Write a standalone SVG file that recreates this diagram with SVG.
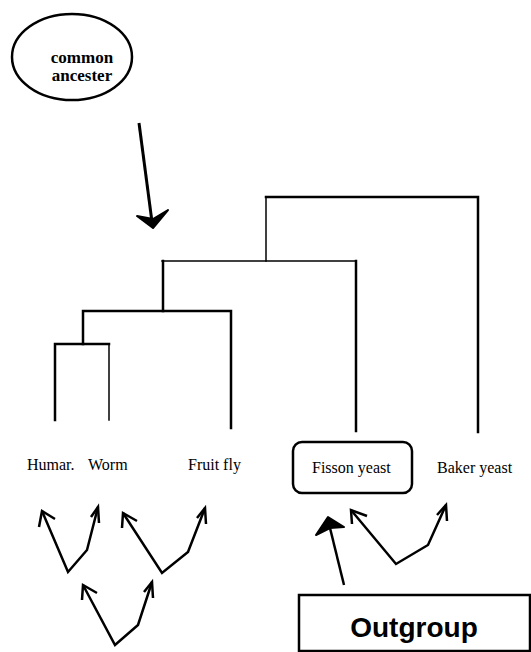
<svg xmlns="http://www.w3.org/2000/svg" width="531" height="652" viewBox="0 0 531 652">
<style>
.tree{fill:none;stroke:#000;stroke-width:2.5;stroke-linecap:square}
.thin{stroke-width:1.5}
.lbl{font-family:"Liberation Serif","Times New Roman",serif;font-size:16px;fill:#000}
.anc{font-family:"Liberation Serif","Times New Roman",serif;font-size:17px;font-weight:bold;fill:#000}
.out{font-family:"Liberation Sans",Arial,sans-serif;font-size:28px;font-weight:bold;fill:#000}
.arr{fill:none;stroke:#000;stroke-width:2.5;stroke-linejoin:miter}
</style>
<rect width="531" height="652" fill="#fff"/>
<g id="common-ancestor">
<ellipse cx="72" cy="57" rx="60" ry="43" fill="#fff" stroke="#000" stroke-width="2.5"/>
<text class="anc" x="82" y="63" text-anchor="middle">common</text>
<text class="anc" x="82" y="81" text-anchor="middle">ancester</text>
</g>
<g id="tree">
<polyline class="tree" points="55,420 55,344 109,344"/>
<polyline class="tree thin" points="109,344 109,420"/>
<polyline class="tree" points="83,344 83,311 231,311 231,428"/>
<polyline class="tree" points="163,311 163,261"/>
<polyline class="tree thin" points="162,261 356,261"/>
<polyline class="tree" points="356,261 356,431"/>
<polyline class="tree thin" points="266,261 266,197"/>
<polyline class="tree" points="266,197 478,197 478,432"/>
</g>
<g id="human"><text class="lbl" x="27" y="470">Humar.</text></g>
<g id="worm"><text class="lbl" x="88" y="470">Worm</text></g>
<g id="fruit-fly"><text class="lbl" x="188" y="470">Fruit fly</text></g>
<g id="fisson-yeast">
<rect x="293" y="442" width="119" height="51" rx="9" fill="#fff" stroke="#000" stroke-width="2.5"/>
<text class="lbl" x="312" y="473">Fisson yeast</text>
</g>
<g id="baker-yeast"><text class="lbl" x="437" y="473">Baker yeast</text></g>
<g id="outgroup">
<rect x="299" y="595" width="231" height="56" fill="#fff" stroke="#000" stroke-width="2.5"/>
<text class="out" x="414" y="637" text-anchor="middle">Outgroup</text>
</g>
<g id="connectors">
<line x1="139" y1="123" x2="152" y2="222" stroke="#000" stroke-width="3"/>
<path d="M153,228 L137,216 L153,219 L168,210 Z" fill="#000" stroke="#000" stroke-width="2" stroke-linejoin="round"/>
<polyline class="arr" points="42,511 68,572 87,550 98,507"/>
<polyline class="arr" points="39,527 42,511 55,519"/>
<polyline class="arr" points="91,517 98,507 99,523"/>
<polyline class="arr" points="123,513 162,573 188,552 205,508"/>
<polyline class="arr" points="122,528 123,513 137,521"/>
<polyline class="arr" points="197,518 205,508 206,524"/>
<polyline class="arr" points="83,585 115,645 138,625 152,582"/>
<polyline class="arr" points="82,600 83,585 97,593"/>
<polyline class="arr" points="144,592 152,582 153,598"/>
<polyline class="arr" points="351,510 396,564 428,545 446,505"/>
<polyline class="arr" points="352,524 351,510 367,516"/>
<polyline class="arr" points="437,515 446,505 447,521"/>
<line x1="344" y1="585" x2="330" y2="528" stroke="#000" stroke-width="2.5"/>
<path d="M328,517 L316,535 L330,528 L344,527 Z" fill="#000" stroke="#000" stroke-width="2" stroke-linejoin="round"/>
</g>
</svg>
